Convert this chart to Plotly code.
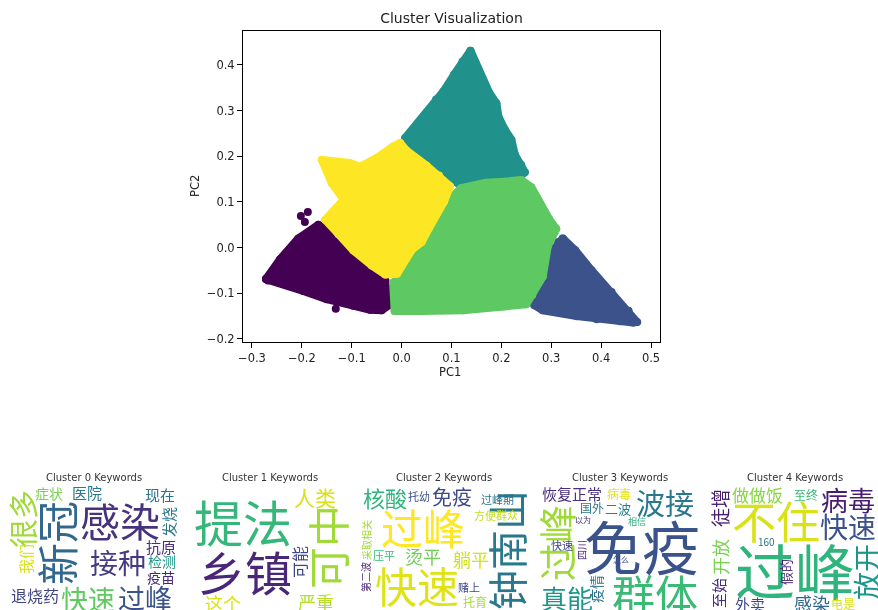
import plotly.graph_objects as go

W, H = 878, 610

# PC coordinates: sampled along the outer edge of each cluster
c0_x = [-0.272,-0.244,-0.207,-0.167,-0.130,-0.094,-0.063,-0.033,-0.026,-0.040,-0.063,-0.097,-0.150,-0.197,-0.244,-0.268]
c0_y = [-0.069,-0.026,0.020,0.050,0.025,-0.008,-0.037,-0.070,-0.126,-0.137,-0.136,-0.127,-0.113,-0.095,-0.077,-0.072]
c0_out_x = [-0.188,-0.202,-0.194,-0.132]
c0_out_y = [0.078,0.069,0.056,-0.134]
c1_x = [0.323,0.348,0.381,0.421,0.455,0.472,0.464,0.438,0.391,0.351,0.283,0.266,0.272,0.291,0.305,0.314]
c1_y = [0.020,-0.006,-0.050,-0.097,-0.138,-0.163,-0.164,-0.161,-0.157,-0.150,-0.137,-0.126,-0.101,-0.064,-0.004,0.012]
c2_x = [0.138,0.149,0.160,0.176,0.190,0.194,0.207,0.220,0.227,0.240,0.247,0.230,0.177,0.119,0.090,0.050,0.012,0.007,0.042,0.069,0.084,0.105,0.122]
c2_y = [0.431,0.402,0.371,0.338,0.316,0.287,0.258,0.236,0.203,0.181,0.165,0.149,0.141,0.136,0.156,0.189,0.225,0.240,0.284,0.324,0.342,0.378,0.407]
c3_x = [0.119,0.170,0.205,0.240,0.260,0.272,0.280,0.296,0.310,0.293,0.283,0.262,0.250,0.204,0.124,0.043,-0.014,-0.017,-0.003,0.012,0.030,0.057,0.060,0.090]
c3_y = [0.130,0.142,0.144,0.148,0.132,0.108,0.085,0.062,0.041,0.003,-0.063,-0.104,-0.124,-0.129,-0.137,-0.139,-0.139,-0.077,-0.063,-0.028,0.003,0.039,0.050,0.098]
c4_x = [-0.003,0.010,0.050,0.075,0.097,0.085,0.071,0.055,0.040,0.021,-0.009,-0.033,-0.060,-0.097,-0.127,-0.153,-0.116,-0.140,-0.160,-0.104,-0.084,-0.050,-0.017]
c4_y = [0.229,0.212,0.179,0.158,0.134,0.101,0.076,0.043,0.012,-0.004,-0.057,-0.059,-0.039,-0.006,0.030,0.061,0.105,0.141,0.192,0.185,0.177,0.196,0.221]

x_ticks = [-0.3,-0.2,-0.1,0.0,0.1,0.2,0.3,0.4,0.5]
y_ticks = [-0.2,-0.1,0.0,0.1,0.2,0.3,0.4]

cluster_titles = ["Cluster 0 Keywords","Cluster 1 Keywords","Cluster 2 Keywords","Cluster 3 Keywords","Cluster 4 Keywords"]
title_cx = [94, 270, 444, 620, 795]

words_0 = ["感染","新冠","接种","快速","过峰","退烧药","很多","症状","医院","现在","抗原","检测","疫苗","我们","发烧"]
words_1 = ["提法","乡镇","可中","人类","可能","这个","严重"]
words_2 = ["过峰","快速","钟南山","核酸","免疫","托幼","过峰期","方便群众","烫平","躺平","压平","采取相关","第二波","赌上","托育"]
words_3 = ["免疫","群体","波接","过峰","真能","恢复正常","病毒","国外","二波","相信","以为","快速","四川","怎么","疫情"]
words_4 = ["过峰","不住","病毒","快速","放开","做做饭","至终","徒增","开放","160","至始","外卖","感染","电是","假的"]

# layout of each cloud: (centre x px, centre y px, font px, vertical, colour)
place_0 = [(120,520,40,0,"#46327e"),(57,543,42,1,"#31688e"),(118,562,28,0,"#443a83"),(88,598,27,0,"#5ec962"),(145,597,27,0,"#3b528b"),
           (35,595,16,0,"#414487"),(24,519,29,1,"#a0da39"),(49,493,14,0,"#7ad151"),(87,492,15,0,"#2a788e"),(160,494,15,0,"#2c728e"),
           (161,546,15,0,"#472d7b"),(162,561,14,0,"#1f968b"),(161,577,14,0,"#482878"),(27,559,15,1,"#d8e219"),(170,522,15,1,"#2a788e")]
place_1 = [(243,520,49,0,"#35b779"),(245,570,47,0,"#482878"),(328,547,42,1,"#a0da39"),(315,497,21,0,"#d8e219"),(301,562,16,1,"#414487"),
           (223,603,18,0,"#d8e219"),(316,602,18,0,"#b5de2b")]
place_2 = [(423,526,42,0,"#fde725"),(417,584,42,0,"#dfe318"),(508,550,40,1,"#2a788e"),(385,497,22,0,"#2fb47c"),(452,496,20,0,"#3e4a89"),
           (419,496,11,0,"#3b528b"),(497,499,11,0,"#2c728e"),(496,515,11,0,"#c2df23"),(423,556,18,0,"#6ece58"),(471,559,18,0,"#d2e21b"),
           (384,555,11,0,"#35b779"),(368,540,10,1,"#a0da39"),(367,577,10,1,"#481f70"),(469,587,11,0,"#3e4a89"),(475,601,12,0,"#a5db36")]
place_3 = [(642,545,58,0,"#3b528b"),(655,593,43,0,"#3aba76"),(665,502,29,0,"#2a788e"),(557,543,38,1,"#a0da39"),(567,597,26,0,"#1f968b"),
           (572,493,15,0,"#472d7b"),(619,493,12,0,"#e5e419"),(592,507,12,0,"#2a788e"),(618,508,13,0,"#26828e"),(637,521,9,0,"#2db27d"),
           (583,519,8,0,"#46327e"),(562,545,11,0,"#414487"),(583,550,10,1,"#482878"),(621,559,8,0,"#3e4a89"),(598,589,14,1,"#2c728e")]
place_4 = [(795,568,60,0,"#2fb47c"),(776,520,44,0,"#d8e219"),(848,499,27,0,"#481f70"),(848,526,28,0,"#3b528b"),(868,572,28,1,"#1f968b"),
           (757,494,17,0,"#8bd646"),(806,494,12,0,"#35b779"),(721,508,19,1,"#481f70"),(722,557,18,1,"#7ad151"),(766,541,10,0,"#2a788e"),
           (720,593,15,1,"#472d7b"),(750,603,15,0,"#3e4a89"),(812,603,18,0,"#31688e"),(843,603,12,0,"#d8e219"),(787,572,13,1,"#481f70")]

fig = go.Figure()
series = [(c0_x,c0_y,"#440154"),(c1_x,c1_y,"#3b528b"),(c2_x,c2_y,"#21918c"),(c3_x,c3_y,"#5ec962"),(c4_x,c4_y,"#fde725")]
for xs, ys, col in series:
    fig.add_trace(go.Scatter(x=xs+xs[:1], y=ys+ys[:1], mode="lines+markers", fill="toself", fillcolor=col,
                             line=dict(color=col, width=8), marker=dict(color=col, size=8), hoverinfo="skip"))
fig.add_trace(go.Scatter(x=c0_out_x, y=c0_out_y, mode="markers", marker=dict(color="#440154", size=8), hoverinfo="skip"))

ann = []
for w, (px, py, fs, vert, col) in [z for ws, pl in zip([words_0,words_1,words_2,words_3,words_4],[place_0,place_1,place_2,place_3,place_4]) for z in zip(ws, pl)]:
    ann.append(dict(text=w, x=px/W, y=1-py/H, xref="paper", yref="paper", xanchor="center", yanchor="middle",
                    showarrow=False, textangle=-90 if vert else 0, xshift=-2 if vert else 0,
                    font=dict(family="Noto Sans CJK SC", size=fs, color=col)))
for t, cx in zip(cluster_titles, title_cx):
    ann.append(dict(text=t, x=cx/W, y=1-477/H, xref="paper", yref="paper", xanchor="center", yanchor="middle",
                    showarrow=False, font=dict(family="DejaVu Sans", size=10, color="#333333")))
# axis titles
for t, px, py, ang in [("PC1", 450, 372, 0), ("PC2", 195, 186, -90)]:
    ann.append(dict(text=t, x=px/W, y=1-py/H, xref="paper", yref="paper", xanchor="center", yanchor="middle",
                    showarrow=False, textangle=ang, font=dict(family="DejaVu Sans", size=11.5, color="#222222")))

axis = dict(showgrid=False, zeroline=False, showline=True, mirror=True, linecolor="black", linewidth=1,
            ticks="outside", ticklen=5, tickwidth=1, tickcolor="black", tickfont=dict(size=11.5, color="#222222"),
            tickformat=".1f", automargin=False)
fig.update_layout(
    width=W, height=H, autosize=False, margin=dict(l=0, r=0, t=0, b=0, autoexpand=False),
    paper_bgcolor="white", plot_bgcolor="white", showlegend=False,
    font=dict(family="DejaVu Sans", color="#222222"),
    title=dict(text="Cluster Visualization", x=451.5/W, xanchor="center", y=1-18/H, yanchor="middle", font=dict(size=14, color="#222222")),
    xaxis=dict(axis, domain=[243/W, 660/W], range=[-0.318, 0.518], tickvals=x_ticks,
               ticktext=[f"{v:.1f}".replace("-", "−") for v in x_ticks]),
    yaxis=dict(axis, domain=[1-342/H, 1-31/H], range=[-0.2066, 0.474], tickvals=y_ticks,
               ticktext=[f"{v:.1f}".replace("-", "−") for v in y_ticks]),
    annotations=ann,
)
fig.write_html("out.html", config={"displayModeBar": False}, post_script="""
document.body.style.margin='0';
document.querySelectorAll('.js-line').forEach(function(p){p.style.strokeLinejoin='round';p.style.strokeMiterlimit='10';});
var defs=document.createElementNS('http://www.w3.org/2000/svg','defs');
defs.innerHTML='<filter id="softblur" x="-10%" y="-10%" width="120%" height="120%"><feGaussianBlur stdDeviation="0.6"/></filter>'
 +'<filter id="softblur2" x="-10%" y="-10%" width="120%" height="120%"><feGaussianBlur stdDeviation="0.3"/></filter>';
document.querySelectorAll('svg.main-svg').forEach(function(s){s.appendChild(defs.cloneNode(true));});
document.querySelectorAll('.annotation text').forEach(function(t){
  var small=(t.textContent==='PC1'||t.textContent==='PC2');
  t.setAttribute('filter', small?'url(#softblur2)':'url(#softblur)');
});
document.querySelectorAll('.xtick text,.ytick text,.gtitle').forEach(function(t){t.setAttribute('filter','url(#softblur2)');});
""")
